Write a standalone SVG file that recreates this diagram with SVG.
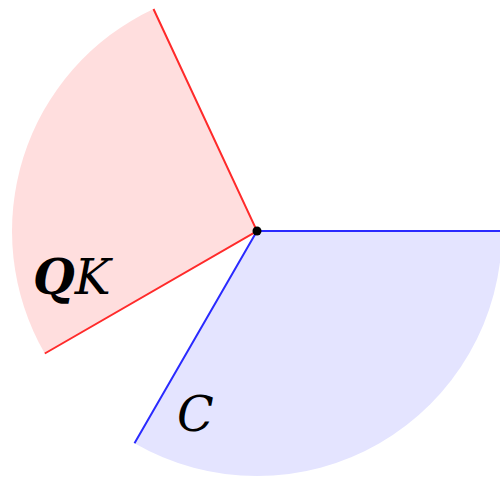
<svg xmlns="http://www.w3.org/2000/svg" width="500" height="478" viewBox="0 0 500 478">
<style>
.lbl{font-family:"DejaVu Serif",serif;font-size:48px;font-style:italic;fill:#000}
</style>
<rect width="500" height="478" fill="#fff"/>
<g id="sector-qk">
<path d="M257,231 L153.5,9 A245,245 0 0 0 44.8,353.5 Z" fill="#ffdede" stroke="none"/>
<text class="lbl" x="33" y="294"><tspan font-weight="bold">Q</tspan>K</text>
</g>
<g id="sector-c">
<path d="M257,231 L502,231 A245,245 0 0 1 134.5,443.2 Z" fill="#e4e4ff" stroke="none"/>
<text class="lbl" x="177" y="431">C</text>
</g>
<g id="connectors" stroke-width="2" fill="none">
<path d="M153.5,9 L257,231 L44.8,353.5" stroke="#ff2a2a"/>
<path d="M502,231 L257,231 L134.5,443.2" stroke="#2a2aff"/>
</g>
<g id="origin"><circle cx="257" cy="231" r="4.5" fill="#000"/></g>
</svg>
